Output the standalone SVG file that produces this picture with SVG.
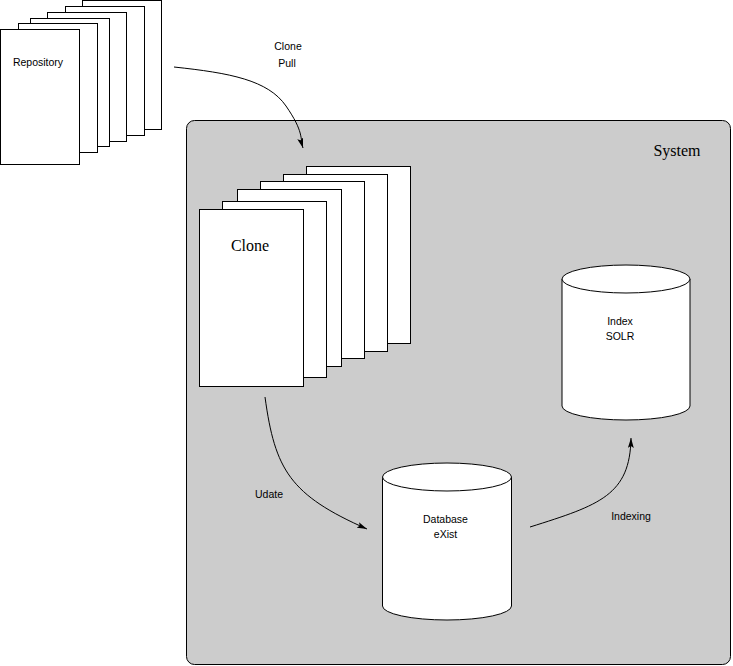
<svg xmlns="http://www.w3.org/2000/svg" width="733" height="666" viewBox="0 0 733 666">
  <style>
    .page { fill: #ffffff; stroke: #000000; stroke-width: 1; }
    .sys { fill: #cccccc; stroke: #000000; stroke-width: 1; }
    .cyl { fill: #ffffff; stroke: #000000; stroke-width: 1; }
    .edge { fill: none; stroke: #000000; stroke-width: 1; marker-end: url(#head); }
    .lbl { font-family: "Liberation Sans", Arial, sans-serif; font-size: 10.5px; fill: #000000; text-anchor: middle; }
    .big { font-family: "Liberation Serif", "Times New Roman", serif; font-size: 16px; fill: #000000; text-anchor: middle; }
  </style>
  <defs>
    <marker id="head" viewBox="0 0 10 6" refX="10" refY="3" markerWidth="10" markerHeight="6" markerUnits="userSpaceOnUse" orient="auto">
      <path d="M0,0 L10,3 L0,6 L2,3 Z" fill="#000000"/>
    </marker>
  </defs>

  <rect width="733" height="666" fill="#ffffff"/>

  <!-- repository: a stack of pages -->
  <g id="repository">
    <rect class="page" x="82.5" y="0.5" width="79" height="129"/>
    <rect class="page" x="65.5" y="6.5" width="79" height="129"/>
    <rect class="page" x="47.5" y="12.5" width="79" height="129"/>
    <rect class="page" x="30.5" y="18.5" width="79" height="128"/>
    <rect class="page" x="18.5" y="23.5" width="79" height="129"/>
    <rect class="page" x="0.5" y="29.5" width="79" height="135"/>
    <text class="lbl" x="38" y="66">Repository</text>
  </g>

  <!-- system boundary -->
  <g id="system">
    <rect class="sys" x="186.5" y="120.5" width="544" height="544" rx="8" ry="8"/>
    <text class="big" x="677" y="156">System</text>
  </g>

  <!-- local clone: a stack of pages -->
  <g id="clone">
    <rect class="page" x="306.5" y="166.5" width="104" height="177"/>
    <rect class="page" x="283.5" y="174.5" width="104" height="177"/>
    <rect class="page" x="260.5" y="181.5" width="104" height="177"/>
    <rect class="page" x="237.5" y="189.5" width="104" height="177"/>
    <rect class="page" x="222.5" y="201.5" width="104" height="176"/>
    <rect class="page" x="199.5" y="209.5" width="104" height="177"/>
    <text class="big" x="250" y="251">Clone</text>
  </g>

  <!-- search index -->
  <g id="index">
    <path class="cyl" d="M562,279 L562,406 A64,14 0 0 0 690,406 L690,279"/>
    <ellipse class="cyl" cx="626" cy="279" rx="64" ry="14"/>
    <text class="lbl" x="620" y="325">Index</text>
    <text class="lbl" x="620" y="340">SOLR</text>
  </g>

  <!-- xml database -->
  <g id="database">
    <path class="cyl" d="M382.5,477 L382.5,606 A64.5,14 0 0 0 511.5,606 L511.5,477"/>
    <ellipse class="cyl" cx="447" cy="477" rx="64.5" ry="14"/>
    <text class="lbl" x="445.5" y="523">Database</text>
    <text class="lbl" x="445.5" y="538">eXist</text>
  </g>

  <!-- connectors -->
  <g id="connectors">
    <path class="edge" d="M174,67 C230,73 268,80 286,106 S300,138 303,148"/>
    <path class="edge" d="M265,397 C275,470 290,495 367,529"/>
    <path class="edge" d="M530,527 C600,505 630,495 631,438"/>
    <text class="lbl" x="288" y="50">Clone</text>
    <text class="lbl" x="287" y="67">Pull</text>
    <text class="lbl" x="269" y="498">Udate</text>
    <text class="lbl" x="631" y="520">Indexing</text>
  </g>
</svg>
